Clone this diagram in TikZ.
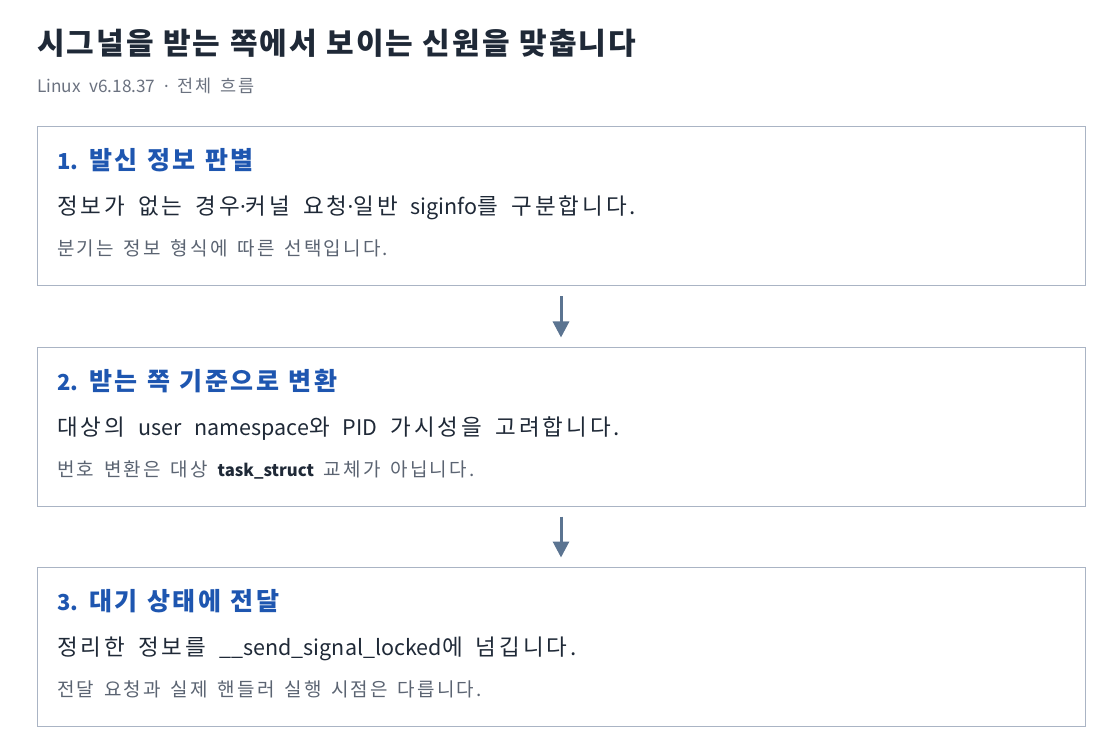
\documentclass[tikz,border=0pt]{standalone}
\usepackage{fontspec}
\setmainfont{Noto Sans CJK KR}
\newfontfamily\latfont{Noto Sans}
% Korean runs: a little larger, tracked
\newfontfamily\kotitle[Scale=1.0, LetterSpace=6.9]{Noto Sans CJK KR}
\newfontfamily\kosub[Scale=1.017, LetterSpace=14]{Noto Sans CJK KR}
\newfontfamily\kohead[Scale=1.136, LetterSpace=10.8]{Noto Sans CJK KR}
\newfontfamily\kobody[Scale=1.0465, LetterSpace=13.3]{Noto Sans CJK KR}
\newfontfamily\konote[Scale=1.138, LetterSpace=11.5]{Noto Sans CJK KR}
\let\kofont\kobody
\newcommand{\ko}[1]{{\kofont{}#1}}
\newcommand{\mdot}{{\latfont ·}}
\usetikzlibrary{arrows.meta}

\definecolor{titlecol}{HTML}{1F2937}
\definecolor{subcol}{HTML}{6B7280}
\definecolor{headcol}{HTML}{1E56B0}
\definecolor{bodycol}{HTML}{1F2937}
\definecolor{notecol}{HTML}{5B6472}
\definecolor{framecol}{HTML}{AAB4C4}
\definecolor{arrcol}{HTML}{5B7491}

\begin{document}
\begin{tikzpicture}[x=1pt, y=-1pt, every node/.style={inner sep=0pt, anchor=base west}]
    \tikzstyle{stepbox}=[draw=framecol, line width=1pt, anchor=north west, minimum width=1048pt, minimum height=159pt]
    \tikzstyle{titletxt}=[font={\fontsize{30}{34}\selectfont\bfseries\spaceskip 9.5pt\relax\let\kofont\kotitle}, text=titlecol]
    \tikzstyle{subtxt}=[font={\fontsize{17.2}{20}\selectfont\spaceskip 8.5pt\relax\let\kofont\kosub}, text=subcol]
    \tikzstyle{headtxt}=[font={\fontsize{22}{26}\selectfont\bfseries\spaceskip 9.3pt\relax\let\kofont\kohead}, text=headcol]
    \tikzstyle{bodytxt}=[font={\fontsize{21.5}{25}\selectfont\spaceskip 13pt\relax\let\kofont\kobody}, text=bodycol]
    \tikzstyle{notetxt}=[font={\fontsize{16.7}{20}\selectfont\spaceskip 9.8pt\relax\let\kofont\konote}, text=notecol]
    \tikzstyle{flowarr}=[line width=3pt, draw=arrcol, -{Triangle[width=16pt, length=16pt]}, shorten <=10pt, shorten >=9pt]

    \useasboundingbox[fill=white] (0,0) rectangle (1120,754);

    \node[titletxt] (title) at (37,55) {\ko{시그널을 받는 쪽에서 보이는 신원을 맞춥니다}};
    \node[subtxt] (sub) at (37,93) {Linux v6.18.37 \mdot{} \ko{전체 흐름}};

    \foreach \i/\head/\body/\note in {
        1/{1. \ko{발신 정보 판별}}/{\ko{정보가 없는 경우}\mdot\ko{커널 요청}\mdot\ko{일반 }siginfo\ko{를 구분합니다.}}/{\ko{분기는 정보 형식에 따른 선택입니다.}},
        2/{2. \ko{받는 쪽 기준으로 변환}}/{\ko{대상의 }user namespace\ko{와 }PID\ko{ 가시성을 고려합니다.}}/{\ko{번호 변환은 대상 }{\bfseries\color{bodycol}task\_struct}\ko{ 교체가 아닙니다.}},
        3/{3. \ko{대기 상태에 전달}}/{\ko{정리한 정보를 }\_\_send\_signal\_locked\ko{에 넘깁니다.}}/{\ko{전달 요청과 실제 핸들러 실행 시점은 다릅니다.}}} {
        \node[stepbox] (box\i) at (36.5, {126.5 + (\i - 1) * 220}) {};
        \node[headtxt] (head\i) at ([xshift=20.5pt, yshift=-43.5pt] box\i.north west) {\head};
        \node[bodytxt] (body\i) at ([xshift=20.5pt, yshift=-88.5pt] box\i.north west) {\body};
        \node[notetxt] (note\i) at ([xshift=20.5pt, yshift=-129.5pt] box\i.north west) {\note};
    }

    \foreach \i/\j in {1/2, 2/3} {
        \draw[flowarr] (box\i) -- (box\j);
    }
\end{tikzpicture}
\end{document}
